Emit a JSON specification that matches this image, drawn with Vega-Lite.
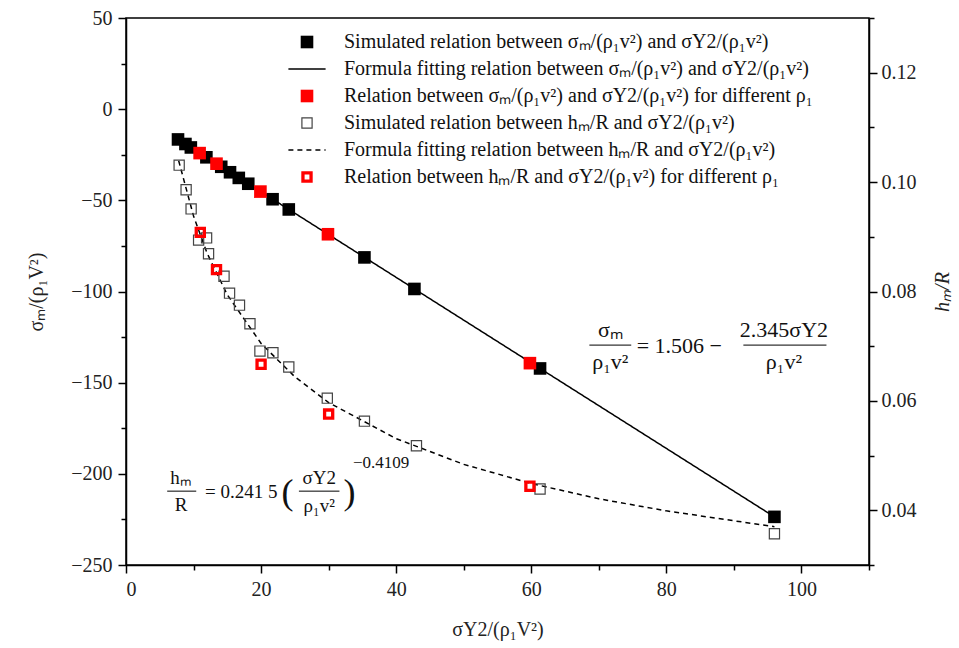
{
  "$schema": "https://vega.github.io/schema/vega-lite/v6.json",
  "autosize": {"type": "none"},
  "width": 743,
  "height": 547,
  "padding": {"left": 126, "top": 18, "right": 90, "bottom": 83},
  "background": "white",
  "config": {
    "view": {"stroke": "black", "strokeWidth": 1.5},
    "axis": {
      "grid": false,
      "domainColor": "black",
      "domainWidth": 1.5,
      "tickColor": "black",
      "tickWidth": 1.5,
      "labelFont": "Liberation Serif",
      "labelFontSize": 20,
      "labelColor": "#222",
      "titleFont": "Liberation Serif",
      "titleFontSize": 20,
      "titleFontWeight": "normal",
      "titleColor": "#222"
    },
    "legend": {
      "orient": "none",
      "legendX": 171,
      "legendY": 14,
      "padding": 0,
      "labelFont": "Liberation Serif",
      "labelFontSize": 20,
      "labelColor": "#111",
      "labelLimit": 800,
      "labelOffset": 27,
      "symbolSize": 144,
      "symbolStrokeWidth": 1.5,
      "rowPadding": 7
    }
  },
  "datasets": {
    "left": [
      {"x": 7.7, "y": -16.6, "s": "Simulated relation between σₘ/(ρ₁v²) and σY2/(ρ₁v²)"},
      {"x": 8.8, "y": -19.1, "s": "Simulated relation between σₘ/(ρ₁v²) and σY2/(ρ₁v²)"},
      {"x": 9.6, "y": -21.0, "s": "Simulated relation between σₘ/(ρ₁v²) and σY2/(ρ₁v²)"},
      {"x": 11.9, "y": -26.4, "s": "Simulated relation between σₘ/(ρ₁v²) and σY2/(ρ₁v²)"},
      {"x": 14.1, "y": -31.6, "s": "Simulated relation between σₘ/(ρ₁v²) and σY2/(ρ₁v²)"},
      {"x": 15.4, "y": -34.6, "s": "Simulated relation between σₘ/(ρ₁v²) and σY2/(ρ₁v²)"},
      {"x": 16.7, "y": -37.7, "s": "Simulated relation between σₘ/(ρ₁v²) and σY2/(ρ₁v²)"},
      {"x": 18.1, "y": -40.9, "s": "Simulated relation between σₘ/(ρ₁v²) and σY2/(ρ₁v²)"},
      {"x": 21.7, "y": -49.4, "s": "Simulated relation between σₘ/(ρ₁v²) and σY2/(ρ₁v²)"},
      {"x": 24.1, "y": -55.0, "s": "Simulated relation between σₘ/(ρ₁v²) and σY2/(ρ₁v²)"},
      {"x": 35.3, "y": -81.3, "s": "Simulated relation between σₘ/(ρ₁v²) and σY2/(ρ₁v²)"},
      {"x": 42.7, "y": -98.6, "s": "Simulated relation between σₘ/(ρ₁v²) and σY2/(ρ₁v²)"},
      {"x": 61.3, "y": -142.2, "s": "Simulated relation between σₘ/(ρ₁v²) and σY2/(ρ₁v²)"},
      {"x": 96.0, "y": -223.6, "s": "Simulated relation between σₘ/(ρ₁v²) and σY2/(ρ₁v²)"},
      {"x": 7.7, "y": -16.5, "s": "Formula fitting relation between σₘ/(ρ₁v²) and σY2/(ρ₁v²)"},
      {"x": 96.0, "y": -223.6, "s": "Formula fitting relation between σₘ/(ρ₁v²) and σY2/(ρ₁v²)"},
      {"x": 10.9, "y": -24.1, "s": "Relation between σₘ/(ρ₁v²) and σY2/(ρ₁v²) for different ρ₁"},
      {"x": 13.4, "y": -29.9, "s": "Relation between σₘ/(ρ₁v²) and σY2/(ρ₁v²) for different ρ₁"},
      {"x": 19.9, "y": -45.2, "s": "Relation between σₘ/(ρ₁v²) and σY2/(ρ₁v²) for different ρ₁"},
      {"x": 29.9, "y": -68.6, "s": "Relation between σₘ/(ρ₁v²) and σY2/(ρ₁v²) for different ρ₁"},
      {"x": 59.8, "y": -139.3, "s": "Relation between σₘ/(ρ₁v²) and σY2/(ρ₁v²) for different ρ₁"}
    ],
    "right": [
      {"x": 7.87, "h": 0.1031, "s": "Simulated relation between hₘ/R and σY2/(ρ₁v²)"},
      {"x": 8.9, "h": 0.0986, "s": "Simulated relation between hₘ/R and σY2/(ρ₁v²)"},
      {"x": 9.64, "h": 0.0951, "s": "Simulated relation between hₘ/R and σY2/(ρ₁v²)"},
      {"x": 10.75, "h": 0.0894, "s": "Simulated relation between hₘ/R and σY2/(ρ₁v²)"},
      {"x": 11.93, "h": 0.0898, "s": "Simulated relation between hₘ/R and σY2/(ρ₁v²)"},
      {"x": 12.22, "h": 0.0869, "s": "Simulated relation between hₘ/R and σY2/(ρ₁v²)"},
      {"x": 14.51, "h": 0.0828, "s": "Simulated relation between hₘ/R and σY2/(ρ₁v²)"},
      {"x": 15.33, "h": 0.0797, "s": "Simulated relation between hₘ/R and σY2/(ρ₁v²)"},
      {"x": 16.8, "h": 0.0775, "s": "Simulated relation between hₘ/R and σY2/(ρ₁v²)"},
      {"x": 18.35, "h": 0.0741, "s": "Simulated relation between hₘ/R and σY2/(ρ₁v²)"},
      {"x": 19.83, "h": 0.0691, "s": "Simulated relation between hₘ/R and σY2/(ρ₁v²)"},
      {"x": 21.75, "h": 0.0688, "s": "Simulated relation between hₘ/R and σY2/(ρ₁v²)"},
      {"x": 24.1, "h": 0.0662, "s": "Simulated relation between hₘ/R and σY2/(ρ₁v²)"},
      {"x": 29.8, "h": 0.0605, "s": "Simulated relation between hₘ/R and σY2/(ρ₁v²)"},
      {"x": 35.3, "h": 0.0563, "s": "Simulated relation between hₘ/R and σY2/(ρ₁v²)"},
      {"x": 43.0, "h": 0.0518, "s": "Simulated relation between hₘ/R and σY2/(ρ₁v²)"},
      {"x": 61.3, "h": 0.0439, "s": "Simulated relation between hₘ/R and σY2/(ρ₁v²)"},
      {"x": 96.0, "h": 0.0357, "s": "Simulated relation between hₘ/R and σY2/(ρ₁v²)"},
      {"x": 7.8, "h": 0.1039, "s": "Formula fitting relation between hₘ/R and σY2/(ρ₁v²)"},
      {"x": 10, "h": 0.0938, "s": "Formula fitting relation between hₘ/R and σY2/(ρ₁v²)"},
      {"x": 12, "h": 0.0870, "s": "Formula fitting relation between hₘ/R and σY2/(ρ₁v²)"},
      {"x": 15, "h": 0.0794, "s": "Formula fitting relation between hₘ/R and σY2/(ρ₁v²)"},
      {"x": 20, "h": 0.0705, "s": "Formula fitting relation between hₘ/R and σY2/(ρ₁v²)"},
      {"x": 25, "h": 0.0644, "s": "Formula fitting relation between hₘ/R and σY2/(ρ₁v²)"},
      {"x": 30, "h": 0.0597, "s": "Formula fitting relation between hₘ/R and σY2/(ρ₁v²)"},
      {"x": 40, "h": 0.0531, "s": "Formula fitting relation between hₘ/R and σY2/(ρ₁v²)"},
      {"x": 50, "h": 0.0484, "s": "Formula fitting relation between hₘ/R and σY2/(ρ₁v²)"},
      {"x": 60, "h": 0.0449, "s": "Formula fitting relation between hₘ/R and σY2/(ρ₁v²)"},
      {"x": 70, "h": 0.0421, "s": "Formula fitting relation between hₘ/R and σY2/(ρ₁v²)"},
      {"x": 80, "h": 0.0399, "s": "Formula fitting relation between hₘ/R and σY2/(ρ₁v²)"},
      {"x": 96, "h": 0.0370, "s": "Formula fitting relation between hₘ/R and σY2/(ρ₁v²)"},
      {"x": 11.0, "h": 0.0908, "s": "Relation between hₘ/R and σY2/(ρ₁v²) for different ρ₁"},
      {"x": 13.4, "h": 0.0840, "s": "Relation between hₘ/R and σY2/(ρ₁v²) for different ρ₁"},
      {"x": 20.0, "h": 0.0667, "s": "Relation between hₘ/R and σY2/(ρ₁v²) for different ρ₁"},
      {"x": 30.0, "h": 0.0576, "s": "Relation between hₘ/R and σY2/(ρ₁v²) for different ρ₁"},
      {"x": 59.8, "h": 0.0444, "s": "Relation between hₘ/R and σY2/(ρ₁v²) for different ρ₁"}
    ],
    "ann": [
      {"x": 71.7, "y": -121.1, "t": "σₘ", "g": "c"},
      {"x": 71.7, "y": -138.7, "t": "ρ₁v²", "g": "c"},
      {"x": 97.4, "y": -121.1, "t": "2.345σY2", "g": "c"},
      {"x": 97.4, "y": -138.7, "t": "ρ₁v²", "g": "c"},
      {"x": 75.6, "y": -129.9, "t": "= 1.506 −", "g": "l"},
      {"x": 8.16, "y": -202.3, "t": "hₘ", "g": "c2"},
      {"x": 8.16, "y": -217.1, "t": "R", "g": "c2"},
      {"x": 28.6, "y": -202.3, "t": "σY2", "g": "c2"},
      {"x": 28.6, "y": -217.7, "t": "ρ₁v²", "g": "c2"},
      {"x": 11.7, "y": -210.0, "t": "= 0.241 5", "g": "l2"},
      {"x": 23.9, "y": -210.5, "t": "(", "g": "p"},
      {"x": 33.1, "y": -210.5, "t": ")", "g": "p"},
      {"x": 33.6, "y": -194.1, "t": "−0.4109", "g": "e"}
    ],
    "bars": [
      {"x": 68.6, "x2": 74.8, "y": -129.4},
      {"x": 91.4, "x2": 103.7, "y": -129.4},
      {"x": 6.1, "x2": 10.4, "y": -209.5},
      {"x": 25.6, "x2": 31.6, "y": -209.5}
    ]
  },
  "resolve": {"scale": {"y": "independent"}},
  "layer": [
    {
      "layer": [
        {
          "data": {"name": "left"},
          "transform": [{"filter": "indexof(datum.s, 'Formula') === 0"}],
          "mark": {"type": "line", "strokeWidth": 1.5},
          "encoding": {
            "x": {"field": "x", "type": "quantitative", "scale": {"domain": [0, 110], "nice": false},
              "axis": {"values": [0,10,20,30,40,50,60,70,80,90,100,110], "labelExpr": "datum.value % 20 === 0 ? datum.label : ''",
                "tickSize": {"condition": {"test": "datum.value % 20 === 0", "value": 8}, "value": 5},
                "labelFont": "Liberation Serif", "labelFontSize": 20,
                "labelPadding": 6, "title": "σY2/(ρ₁V²)", "titlePadding": 20}},
            "y": {"field": "y", "type": "quantitative", "scale": {"domain": [-250, 50], "nice": false},
              "axis": {"orient": "left", "values": [-250,-225,-200,-175,-150,-125,-100,-75,-50,-25,0,25,50], "labelExpr": "datum.value % 50 === 0 ? datum.label : ''",
                "tickSize": {"condition": {"test": "datum.value % 50 === 0", "value": 8}, "value": 5},
                "labelFont": "Liberation Serif", "labelFontSize": 20,
                "labelPadding": 6, "title": "σₘ/(ρ₁V²)", "titlePadding": 24}},
            "stroke": {"field": "s", "type": "nominal", "title": null,
              "scale": {"domain": [
                "Simulated relation between σₘ/(ρ₁v²) and σY2/(ρ₁v²)",
                "Formula fitting relation between σₘ/(ρ₁v²) and σY2/(ρ₁v²)",
                "Relation between σₘ/(ρ₁v²) and σY2/(ρ₁v²) for different ρ₁",
                "Simulated relation between hₘ/R and σY2/(ρ₁v²)",
                "Formula fitting relation between hₘ/R and σY2/(ρ₁v²)",
                "Relation between hₘ/R and σY2/(ρ₁v²) for different ρ₁"],
                "range": ["transparent", "black", "transparent", "transparent", "black", "transparent"]}},
            "strokeDash": {"field": "s", "type": "nominal", "title": null,
              "scale": {"domain": [
                "Simulated relation between σₘ/(ρ₁v²) and σY2/(ρ₁v²)",
                "Formula fitting relation between σₘ/(ρ₁v²) and σY2/(ρ₁v²)",
                "Relation between σₘ/(ρ₁v²) and σY2/(ρ₁v²) for different ρ₁",
                "Simulated relation between hₘ/R and σY2/(ρ₁v²)",
                "Formula fitting relation between hₘ/R and σY2/(ρ₁v²)",
                "Relation between hₘ/R and σY2/(ρ₁v²) for different ρ₁"],
                "range": [[1,0],[1,0],[1,0],[1,0],[5,4],[1,0]]}}
          }
        },
        {
          "data": {"name": "left"},
          "transform": [{"filter": "indexof(datum.s, 'Formula') !== 0"}],
          "mark": {"type": "point", "filled": true, "size": 144, "strokeWidth": 0, "opacity": 1},
          "encoding": {
            "x": {"field": "x", "type": "quantitative"},
            "y": {"field": "y", "type": "quantitative"},
            "fill": {"field": "s", "type": "nominal", "title": null,
              "scale": {"domain": [
                "Simulated relation between σₘ/(ρ₁v²) and σY2/(ρ₁v²)",
                "Formula fitting relation between σₘ/(ρ₁v²) and σY2/(ρ₁v²)",
                "Relation between σₘ/(ρ₁v²) and σY2/(ρ₁v²) for different ρ₁",
                "Simulated relation between hₘ/R and σY2/(ρ₁v²)",
                "Formula fitting relation between hₘ/R and σY2/(ρ₁v²)",
                "Relation between hₘ/R and σY2/(ρ₁v²) for different ρ₁"],
                "range": ["black", "black", "#ff0000", "#444444", "black", "#ff0000"]}},
            "shape": {"field": "s", "type": "nominal", "title": null,
              "scale": {"domain": [
                "Simulated relation between σₘ/(ρ₁v²) and σY2/(ρ₁v²)",
                "Formula fitting relation between σₘ/(ρ₁v²) and σY2/(ρ₁v²)",
                "Relation between σₘ/(ρ₁v²) and σY2/(ρ₁v²) for different ρ₁",
                "Simulated relation between hₘ/R and σY2/(ρ₁v²)",
                "Formula fitting relation between hₘ/R and σY2/(ρ₁v²)",
                "Relation between hₘ/R and σY2/(ρ₁v²) for different ρ₁"],
                "range": ["M-1.05,-1.05H1.05V1.05H-1.05Z", "M-3.1,0H3.1", "M-1.05,-1.05H1.05V1.05H-1.05Z", "M-0.95,-0.95H0.95V0.95H-0.95Z M-0.75,-0.75V0.75H0.75V-0.75Z", "M-3.1,0H3.1", "M-0.95,-0.95H0.95V0.95H-0.95Z M-0.4,-0.4V0.4H0.4V-0.4Z"]}}
          }
        }
      ]
    },
    {
      "layer": [
        {
          "data": {"name": "right"},
          "transform": [{"filter": "indexof(datum.s, 'Formula') === 0"}],
          "mark": {"type": "line", "strokeWidth": 1.5},
          "encoding": {
            "x": {"field": "x", "type": "quantitative"},
            "y": {"field": "h", "type": "quantitative", "scale": {"domain": [0.03, 0.13], "nice": false},
              "axis": {"orient": "right", "values": [0.03,0.04,0.05,0.06,0.07,0.08,0.09,0.10,0.11,0.12,0.13], "format": ".2f",
                "labelExpr": "round(datum.value*100) % 2 === 0 ? datum.label : ''",
                "tickSize": {"condition": {"test": "round(datum.value*100) % 2 === 0", "value": 8}, "value": 5},
                "labelFont": "Liberation Serif", "labelFontSize": 20,
                "labelPadding": 4, "title": "hₘ/R", "titleFontStyle": "italic", "titleAngle": 270, "titlePadding": 36}},
            "stroke": {"field": "s", "type": "nominal", "title": null},
            "strokeDash": {"field": "s", "type": "nominal", "title": null}
          }
        },
        {
          "data": {"name": "right"},
          "transform": [{"filter": "indexof(datum.s, 'Formula') !== 0"}],
          "mark": {"type": "point", "filled": true, "size": 144, "strokeWidth": 0, "opacity": 1},
          "encoding": {
            "x": {"field": "x", "type": "quantitative"},
            "y": {"field": "h", "type": "quantitative"},
            "fill": {"field": "s", "type": "nominal", "title": null},
            "shape": {"field": "s", "type": "nominal", "title": null}
          }
        }
      ]
    },
    {
      "layer": [
        {
          "data": {"name": "bars"},
          "mark": {"type": "rule", "color": "black", "strokeWidth": 1},
          "encoding": {
            "x": {"field": "x", "type": "quantitative"},
            "x2": {"field": "x2"},
            "y": {"field": "y", "type": "quantitative", "scale": {"domain": [-250, 50], "nice": false}, "axis": null}
          }
        },
        {
          "data": {"name": "ann"},
          "transform": [{"filter": "datum.g === 'c'"}],
          "mark": {"type": "text", "font": "Liberation Serif", "fontSize": 22, "align": "center", "baseline": "middle", "color": "#111"},
          "encoding": {
            "x": {"field": "x", "type": "quantitative"},
            "y": {"field": "y", "type": "quantitative"},
            "text": {"field": "t"}
          }
        },
        {
          "data": {"name": "ann"},
          "transform": [{"filter": "datum.g === 'l'"}],
          "mark": {"type": "text", "font": "Liberation Serif", "fontSize": 22, "align": "left", "baseline": "middle", "color": "#111"},
          "encoding": {
            "x": {"field": "x", "type": "quantitative"},
            "y": {"field": "y", "type": "quantitative"},
            "text": {"field": "t"}
          }
        },
        {
          "data": {"name": "ann"},
          "transform": [{"filter": "datum.g === 'c2'"}],
          "mark": {"type": "text", "font": "Liberation Serif", "fontSize": 19, "align": "center", "baseline": "middle", "color": "#111"},
          "encoding": {
            "x": {"field": "x", "type": "quantitative"},
            "y": {"field": "y", "type": "quantitative"},
            "text": {"field": "t"}
          }
        },
        {
          "data": {"name": "ann"},
          "transform": [{"filter": "datum.g === 'l2'"}],
          "mark": {"type": "text", "font": "Liberation Serif", "fontSize": 19, "align": "left", "baseline": "middle", "color": "#111"},
          "encoding": {
            "x": {"field": "x", "type": "quantitative"},
            "y": {"field": "y", "type": "quantitative"},
            "text": {"field": "t"}
          }
        },
        {
          "data": {"name": "ann"},
          "transform": [{"filter": "datum.g === 'p'"}],
          "mark": {"type": "text", "font": "Liberation Serif", "fontSize": 36, "align": "center", "baseline": "middle", "color": "#111"},
          "encoding": {
            "x": {"field": "x", "type": "quantitative"},
            "y": {"field": "y", "type": "quantitative"},
            "text": {"field": "t"}
          }
        },
        {
          "data": {"name": "ann"},
          "transform": [{"filter": "datum.g === 'e'"}],
          "mark": {"type": "text", "font": "Liberation Serif", "fontSize": 17, "align": "left", "baseline": "middle", "color": "#111"},
          "encoding": {
            "x": {"field": "x", "type": "quantitative"},
            "y": {"field": "y", "type": "quantitative"},
            "text": {"field": "t"}
          }
        }
      ]
    }
  ]
}
